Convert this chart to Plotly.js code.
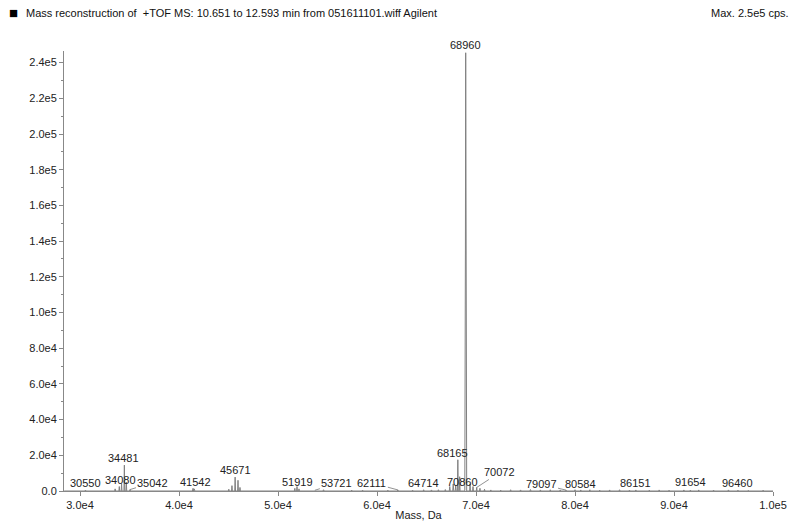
<!DOCTYPE html>
<html>
<head>
<meta charset="utf-8">
<script src="https://cdn.plot.ly/plotly-3.0.1.min.js"></script>
<style>html,body{margin:0;padding:0;background:#fff;}#chart{width:793px;height:521px;}</style>
</head>
<body>
<div id="chart"></div>
<script>
// Reconstructed mass spectrum (mass in Da, intensity in cps)
const massDa = [
  28400, 30500, 30550, 30600,
  33500, 33550, 33600, 33930, 33970, 34010, 34160, 34200, 34240,
  34440, 34481, 34520, 34640, 34680, 34720, 35000, 35050, 35100,
  41350, 41420, 41480, 41542, 41600,
  44980, 45030, 45080, 45310, 45350, 45390, 45630, 45671, 45710,
  45920, 45960, 46000, 46120, 46160, 46200,
  51650, 51700, 51750, 51880, 51919, 51960, 52080, 52120, 52160,
  53680, 53721, 53760, 54550, 54600, 54650, 57400, 57450, 57500,
  58500, 58550, 58600, 61050, 61100, 61150, 62060, 62111, 62160,
  63550, 63600, 63650, 64670, 64714, 64760, 65450, 65500, 65550,
  66150, 66200, 66250, 66850, 66900, 66950, 67300, 67350, 67400,
  67650, 67700, 67750, 67900, 67950, 68000, 68120, 68165, 68210,
  68310, 68350, 68390, 68870, 68900, 68930, 68960, 68990, 69020, 69060,
  69360, 69400, 69440, 69660, 69700, 69740, 70030, 70072, 70110,
  70360, 70400, 70440, 70820, 70860, 70900, 71450, 71500, 71550,
  72450, 72500, 72550, 73450, 73500, 73550, 74450, 74500, 74550,
  75450, 75500, 75550, 76450, 76500, 76550, 77450, 77500, 77550,
  78450, 78500, 78550, 79050, 79097, 79150, 79950, 80000, 80050,
  80540, 80584, 80630, 81450, 81500, 81550, 82450, 82500, 82550,
  83450, 83500, 83550, 84450, 84500, 84550, 85450, 85500, 85550,
  86100, 86151, 86200, 87450, 87500, 87550, 88450, 88500, 88550,
  89450, 89500, 89550, 90950, 91000, 91050, 91610, 91654, 91700,
  92450, 92500, 92550, 93950, 94000, 94050, 95450, 95500, 95550,
  96420, 96460, 96500, 97450, 97500, 97550, 98950, 99000, 99050, 100000
];
const intensity = [
  0, 0, 500, 0,
  0, 1200, 0, 0, 2500, 0, 0, 4000, 0,
  0, 14500, 0, 0, 5000, 0, 0, 800, 0,
  0, 1500, 0, 1200, 0,
  0, 1000, 0, 0, 3000, 0, 0, 7800, 0,
  0, 6000, 0, 0, 2000, 0,
  0, 1500, 0, 0, 2500, 0, 0, 1200, 0,
  0, 400, 0, 0, 700, 0, 0, 500, 0,
  0, 500, 0, 0, 500, 0, 0, 600, 0,
  0, 500, 0, 0, 700, 0, 0, 600, 0,
  0, 700, 0, 0, 800, 0, 0, 2500, 0,
  0, 4000, 0, 0, 3000, 0, 0, 17500, 0,
  0, 8000, 0, 0, 40000, 135000, 245500, 135000, 40000, 0,
  0, 4000, 0, 0, 2500, 0, 0, 2000, 0,
  0, 1500, 0, 0, 1000, 0, 0, 600, 0,
  0, 500, 0, 0, 700, 0, 0, 600, 0,
  0, 800, 0, 0, 600, 0, 0, 700, 0,
  0, 600, 0, 0, 500, 0, 0, 700, 0,
  0, 600, 0, 0, 700, 0, 0, 500, 0,
  0, 600, 0, 0, 700, 0, 0, 500, 0,
  0, 600, 0, 0, 500, 0, 0, 600, 0,
  0, 500, 0, 0, 600, 0, 0, 500, 0,
  0, 600, 0, 0, 500, 0, 0, 600, 0,
  0, 500, 0, 0, 400, 0, 0, 500, 0, 0
];

// Peak labels
const labelMass = [30550, 34080, 34481, 35050, 41542, 45671, 51919, 53721, 62111, 64714,
                   68165, 68960, 70860, 70072, 79097, 80584, 86151, 91654, 96460];
const labelIntensity = [0, 0, 14500, 800, 0, 7800, 0, 400, 600, 0,
                        17500, 245500, 0, 2000, 500, 0, 0, 0, 0];
const labelText = ["30550", "34080", "34481", "35042", "41542", "45671", "51919", "53721", "62111", "64714",
                   "68165", "68960", "70860", "70072", "79097", "80584", "86151", "91654", "96460"];

// Axis ticks
const xTickVals = [30000, 40000, 50000, 60000, 70000, 80000, 90000, 100000];
const xTickText = ["3.0e4", "4.0e4", "5.0e4", "6.0e4", "7.0e4", "8.0e4", "9.0e4", "1.0e5"];
const yTickVals = [0, 20000, 40000, 60000, 80000, 100000, 120000, 140000, 160000, 180000, 200000, 220000, 240000];
const yTickText = ["0.0", "2.0e4", "4.0e4", "6.0e4", "8.0e4", "1.0e5", "1.2e5", "1.4e5", "1.6e5", "1.8e5", "2.0e5", "2.2e5", "2.4e5"];

// label placement (pixel offsets of text centre from the labelled point) and connector flags
const labelPlacement = [
  [0, -8, false], [0, -11, false], [-1, -7, false], [23, -7, true], [1, -9, false],
  [0, -7, false], [0, -9, false], [22, -7, true], [-26, -7, true], [0, -8, false],
  [-5, -7, false], [0, -8, false], [-22, -9, false], [23, -15, true], [-25, -6, true],
  [0, -7, false], [0, -8, false], [0, -9, false], [0, -8, false]
];

const font = "Arial, 'Liberation Sans', sans-serif";
const annotations = labelMass.map((m, i) => {
  const p = labelPlacement[i];
  const a = {
    x: m, y: labelIntensity[i], xref: 'x', yref: 'y', text: labelText[i],
    font: {family: font, size: 11, color: '#222'}, borderpad: 0
  };
  if (p[2]) {
    Object.assign(a, {showarrow: true, ax: p[0], ay: p[1], arrowhead: 0, arrowwidth: 0.8,
      arrowcolor: '#777', standoff: 0, startstandoff: 1});
  } else {
    Object.assign(a, {showarrow: false, xanchor: 'center', yanchor: 'middle', xshift: p[0], yshift: -p[1]});
  }
  return a;
});

annotations.push({
  xref: 'paper', yref: 'paper', x: 0, xshift: -57, y: 1.0, yshift: 39, xanchor: 'left', yanchor: 'middle',
  showarrow: false, text: '■',
  font: {family: font, size: 15, color: '#000'}
});
annotations.push({
  xref: 'paper', yref: 'paper', x: 0, xshift: -40, y: 1.0, yshift: 38, xanchor: 'left', yanchor: 'middle',
  showarrow: false, text: 'Mass reconstruction of  +TOF MS: 10.651 to 12.593 min from 051611101.wiff Agilent',
  font: {family: font, size: 11, color: '#111'}
});
annotations.push({
  xref: 'paper', yref: 'paper', x: 1.0, xshift: 18, y: 1.0, yshift: 38, xanchor: 'right', yanchor: 'middle',
  showarrow: false, text: 'Max. 2.5e5 cps.',
  font: {family: font, size: 11, color: '#111'}
});

const trace = {
  x: massDa, y: intensity, type: 'scatter', mode: 'lines',
  line: {color: '#808080', width: 1}, hoverinfo: 'skip'
};

const layout = {
  width: 793, height: 521,
  margin: {l: 64, r: 20, t: 51, b: 30},
  paper_bgcolor: '#fff', plot_bgcolor: '#fff',
  showlegend: false,
  font: {family: font, size: 11, color: '#222'},
  xaxis: {
    range: [28384, 100000], tickmode: 'array', tickvals: xTickVals, ticktext: xTickText,
    showgrid: false, zeroline: false, showline: true, linecolor: '#888', linewidth: 1,
    ticks: 'outside', ticklen: 4, tickcolor: '#888', tickfont: {family: font, size: 11, color: '#222'},
    title: {text: 'Mass, Da', font: {family: font, size: 11, color: '#222'}, standoff: 2}
  },
  yaxis: {
    range: [0, 246500], tickmode: 'array', tickvals: yTickVals, ticktext: yTickText,
    showgrid: false, zeroline: false, showline: true, linecolor: '#888', linewidth: 1,
    ticks: 'outside', ticklen: 4, tickcolor: '#888', tickfont: {family: font, size: 11, color: '#222'},
    minor: {tickmode: 'linear', tick0: 10000, dtick: 20000, ticks: 'outside', ticklen: 2, tickcolor: '#888', showgrid: false}
  },
  annotations: annotations
};

Plotly.newPlot('chart', [trace], layout, {staticPlot: true, displayModeBar: false});
</script>
</body>
</html>
